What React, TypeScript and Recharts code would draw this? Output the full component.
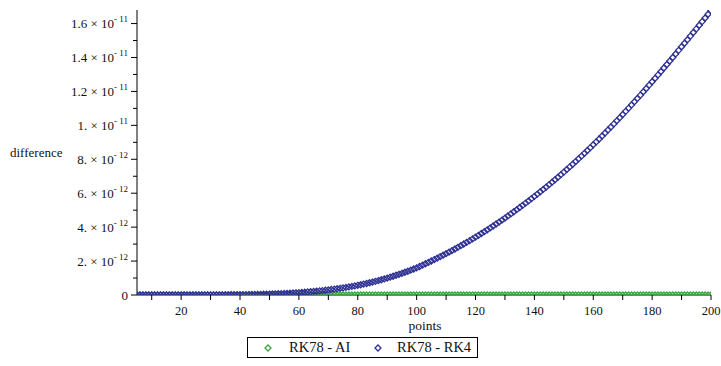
import React from 'react';
import { ScatterChart, Scatter, XAxis, YAxis, Label } from 'recharts';

// x positions of the points start at 5 and step by 1 up to 200
const firstPoint = 5;

// RK78 - RK4 difference, in units of 1e-12
const rk78MinusRk4 = [
  0, 0, 0, 0, 0, 0, 0, 0, 0, 0, 0,
  0.001, 0.001, 0.001, 0.001, 0.001,
  0.001, 0.002, 0.002, 0.002, 0.003, 0.003, 0.004, 0.004, 0.005, 0.005,
  0.006, 0.007, 0.008, 0.009, 0.010, 0.011, 0.013, 0.014, 0.016, 0.018,
  0.020, 0.022, 0.025, 0.028, 0.031, 0.035, 0.039, 0.044, 0.049, 0.055,
  0.061, 0.067, 0.074, 0.081, 0.089, 0.097, 0.106, 0.116, 0.128, 0.140,
  0.153, 0.166, 0.180, 0.194, 0.209, 0.225, 0.242, 0.260, 0.279, 0.300,
  0.322, 0.345, 0.369, 0.394, 0.420, 0.447, 0.476, 0.506, 0.537, 0.570,
  0.605, 0.642, 0.680, 0.720, 0.762, 0.805, 0.850, 0.897, 0.946, 0.997,
  1.052, 1.106, 1.162, 1.219, 1.278, 1.339, 1.401, 1.465, 1.531, 1.600,
  1.679, 1.759, 1.840, 1.922, 2.005, 2.089, 2.174, 2.260, 2.347, 2.435,
  2.527, 2.620, 2.714, 2.809, 2.906, 3.004, 3.104, 3.205, 3.307, 3.410,
  3.516, 3.624, 3.733, 3.843, 3.955, 4.068, 4.183, 4.299, 4.417, 4.536,
  4.660, 4.782, 4.905, 5.030, 5.157, 5.285, 5.415, 5.546, 5.679, 5.813,
  5.948, 6.085, 6.223, 6.363, 6.505, 6.649, 6.795, 6.943, 7.093, 7.245,
  7.397, 7.551, 7.707, 7.865, 8.025, 8.187, 8.351, 8.517, 8.685, 8.855,
  9.025, 9.197, 9.371, 9.547, 9.725, 9.904, 10.085, 10.268, 10.453, 10.640,
  10.826, 11.014, 11.204, 11.395, 11.588, 11.782, 11.977, 12.174, 12.372, 12.572,
  12.772, 12.974, 13.177, 13.381, 13.587, 13.794, 14.002, 14.211, 14.421, 14.632,
  14.840, 15.050, 15.261, 15.473, 15.686, 15.900, 16.115, 16.331, 16.547, 16.760,
];

// RK78 - AI difference, in units of 1e-12 (flat at zero)
const rk78MinusAI = [
  0, 0, 0, 0, 0, 0, 0, 0, 0, 0, 0,
  0, 0, 0, 0, 0,
  0, 0, 0, 0, 0, 0, 0, 0, 0, 0,
  0, 0, 0, 0, 0, 0, 0, 0, 0, 0,
  0, 0, 0, 0, 0, 0, 0, 0, 0, 0,
  0, 0, 0, 0, 0, 0, 0, 0, 0, 0,
  0, 0, 0, 0, 0, 0, 0, 0, 0, 0,
  0, 0, 0, 0, 0, 0, 0, 0, 0, 0,
  0, 0, 0, 0, 0, 0, 0, 0, 0, 0,
  0, 0, 0, 0, 0, 0, 0, 0, 0, 0,
  0, 0, 0, 0, 0, 0, 0, 0, 0, 0,
  0, 0, 0, 0, 0, 0, 0, 0, 0, 0,
  0, 0, 0, 0, 0, 0, 0, 0, 0, 0,
  0, 0, 0, 0, 0, 0, 0, 0, 0, 0,
  0, 0, 0, 0, 0, 0, 0, 0, 0, 0,
  0, 0, 0, 0, 0, 0, 0, 0, 0, 0,
  0, 0, 0, 0, 0, 0, 0, 0, 0, 0,
  0, 0, 0, 0, 0, 0, 0, 0, 0, 0,
  0, 0, 0, 0, 0, 0, 0, 0, 0, 0,
  0, 0, 0, 0, 0, 0, 0, 0, 0, 0,
];

const unit = 1e-12;
const xTicks = [10, 20, 30, 40, 50, 60, 70, 80, 90, 100, 110, 120, 130, 140, 150, 160, 170, 180, 190, 200];
const xTickLabels = ['', '20', '', '40', '', '60', '', '80', '', '100', '', '120', '', '140', '', '160', '', '180', '', '200'];
const yTickUnits = [0, 1, 2, 3, 4, 5, 6, 7, 8, 9, 10, 11, 12, 13, 14, 15, 16];
const yTickMantissas = ['0', '', '2.', '', '4.', '', '6.', '', '8.', '', '1.', '', '1.2', '', '1.4', '', '1.6'];
const yTickExponents = ['', '', '- 12', '', '- 12', '', '- 12', '', '- 12', '', '- 11', '', '- 11', '', '- 11', '', '- 11'];
const seriesNames = ['RK78 - AI', 'RK78 - RK4'];
const seriesColors = ['#3fa43f', '#2e3192'];

const aiData = rk78MinusAI.map((v, i) => ({ x: firstPoint + i, y: v * unit }));
const rk4Data = rk78MinusRk4.map((v, i) => ({ x: firstPoint + i, y: v * unit }));

const FONT = 'Liberation Serif';

const diamond = (color: string) => (props: any) => {
  const { cx, cy } = props;
  if (cx == null || cy == null) return <g />;
  const r = 3;
  return (
    <path
      d={`M${cx},${cy - r}L${cx + r},${cy}L${cx},${cy + r}L${cx - r},${cy}Z`}
      fill="none"
      stroke={color}
      strokeWidth={1.3}
    />
  );
};

const YTick = (props: any) => {
  const { x, y, payload } = props;
  const idx = Math.round(payload.value / unit);
  const m = yTickMantissas[idx] || '';
  const e = yTickExponents[idx] || '';
  const major = m !== '';
  return (
    <g>
      <line x1={x - (major ? 6 : 4)} x2={x} y1={y} y2={y} stroke="#000" strokeWidth={1} />
      {major && (
        <text x={x - 9} y={y + 4.5} textAnchor="end" fontSize={13} fontFamily={FONT} style={{ fontFamily: FONT }} fill="#111">
          <tspan>{e ? `${m} × 10` : m}</tspan>
          {e && <tspan dy={-6} fontSize={9}>{e}</tspan>}
        </text>
      )}
    </g>
  );
};

const XTick = (props: any) => {
  const { x, y, payload } = props;
  const i = xTicks.indexOf(payload.value);
  const lab = i >= 0 ? xTickLabels[i] : '';
  return (
    <g>
      <line x1={x} x2={x} y1={y} y2={y + 5} stroke="#000" strokeWidth={1} />
      {lab && (
        <text x={x} y={y + 20} textAnchor="middle" fontSize={12.5} fontFamily={FONT} style={{ fontFamily: FONT }} fill="#111">
          {lab}
        </text>
      )}
    </g>
  );
};

const LegendDiamond = ({ color }: { color: string }) => (
  <svg width={10} height={10} style={{ position: 'absolute', top: 5 }}>
    <path d="M5,2L8,5L5,8L2,5Z" fill="none" stroke={color} strokeWidth={1.3} />
  </svg>
);

export default function App() {
  return (
    <div style={{ position: 'absolute', left: 0, top: 0, width: 721, height: 366, background: '#fff', fontFamily: FONT }}>
      <ScatterChart width={721} height={366} margin={{ top: 10, right: 10, left: 0, bottom: 0 }} style={{ fontFamily: FONT }}>
        <XAxis
          type="number"
          dataKey="x"
          domain={[5, 200]}
          ticks={xTicks}
          interval={0}
          tick={<XTick />}
          tickLine={false}
          tickSize={0}
          tickMargin={0}
          axisLine={{ stroke: '#000', strokeWidth: 1 }}
          height={71}
          allowDataOverflow
        >
          <Label
            content={() => (
              <text x={425} y={330} textAnchor="middle" fontSize={13.5} fontFamily={FONT} style={{ fontFamily: FONT }} fill="#111">
                points
              </text>
            )}
          />
        </XAxis>
        <YAxis
          type="number"
          dataKey="y"
          domain={[0, 16.8 * unit]}
          ticks={yTickUnits.map((t) => t * unit)}
          interval={0}
          tick={<YTick />}
          tickLine={false}
          tickSize={0}
          tickMargin={0}
          axisLine={{ stroke: '#000', strokeWidth: 1 }}
          width={137}
          allowDataOverflow
        >
          <Label
            content={() => (
              <text x={10} y={157} textAnchor="start" fontSize={13} fontFamily={FONT} style={{ fontFamily: FONT }} fill="#111">
                difference
              </text>
            )}
          />
        </YAxis>
        <Scatter
          name={seriesNames[0]}
          data={aiData}
          shape={diamond(seriesColors[0])}
          isAnimationActive={false}
        />
        <Scatter
          name={seriesNames[1]}
          data={rk4Data}
          shape={diamond(seriesColors[1])}
          isAnimationActive={false}
        />
      </ScatterChart>
      <div
        style={{
          position: 'absolute',
          left: 247,
          top: 337,
          width: 231,
          height: 21,
          border: '1px solid #000',
          boxSizing: 'border-box',
          fontFamily: FONT,
          fontSize: 14.5,
          color: '#111',
        }}
      >
        <div style={{ position: 'absolute', left: 15 }}>
          <LegendDiamond color={seriesColors[0]} />
        </div>
        <div style={{ position: 'absolute', left: 41, top: 0, lineHeight: '19px', whiteSpace: 'pre' }}>{seriesNames[0]}</div>
        <div style={{ position: 'absolute', left: 125 }}>
          <LegendDiamond color={seriesColors[1]} />
        </div>
        <div style={{ position: 'absolute', left: 149, top: 0, lineHeight: '19px', whiteSpace: 'pre' }}>{seriesNames[1]}</div>
      </div>
    </div>
  );
}
